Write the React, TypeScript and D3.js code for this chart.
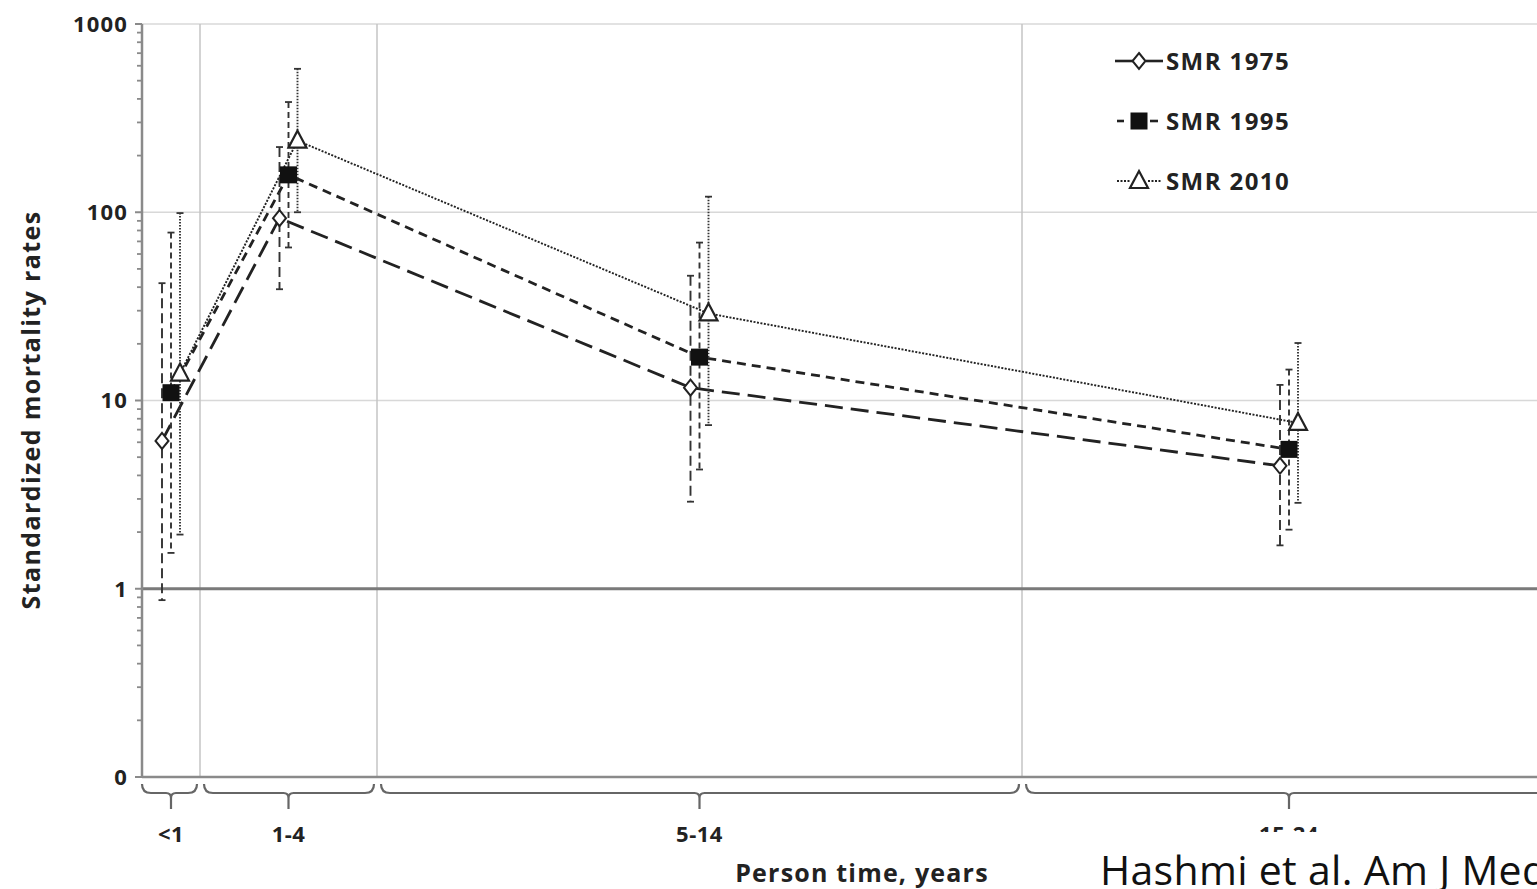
import React from "react";
import * as d3 from "d3";

// ---- data ----
const categories = ["<1", "1-4", "5-14", "15-24"];
const bandStart = [0, 1, 5, 15];
const bandEnd = [1, 5, 15, 25];
const seriesNames = ["SMR 1975", "SMR 1995", "SMR 2010"];
const smr1975 = [6.1, 93, 11.7, 4.5];
const smr1975Lo = [0.87, 39, 2.9, 1.7];
const smr1975Hi = [42, 222, 46, 12.1];
const smr1995 = [11, 158, 17, 5.5];
const smr1995Lo = [1.55, 65, 4.3, 2.06];
const smr1995Hi = [78, 385, 69, 14.6];
const smr2010 = [13.9, 240, 29, 7.6];
const smr2010Lo = [1.94, 100, 7.4, 2.86];
const smr2010Hi = [99, 578, 121, 20.2];
const yTickValues = [0.1, 1, 10, 100, 1000];
const yTickLabels = ["0", "1", "10", "100", "1000"];

const W = 1537;
const H = 889;
const FONT = "'Open Sans', 'Liberation Sans', sans-serif";

const series = [
  { name: seriesNames[0], v: smr1975, lo: smr1975Lo, hi: smr1975Hi, dash: "18,8", ebDash: "10,5", marker: "diamond", off: -9, lw: 2.8 },
  { name: seriesNames[1], v: smr1995, lo: smr1995Lo, hi: smr1995Hi, dash: "9,6", ebDash: "6,4", marker: "square", off: 0, lw: 2.8 },
  { name: seriesNames[2], v: smr2010, lo: smr2010Lo, hi: smr2010Hi, dash: "2,1.5", ebDash: "1.5,1.5", marker: "triangle", off: 9, lw: 1.9 },
];

function Marker({ type, x, y }: { type: string; x: number; y: number }) {
  if (type === "diamond") {
    const p = `M${x},${y - 8} L${x + 6.5},${y} L${x},${y + 8} L${x - 6.5},${y} Z`;
    return <path d={p} fill="#fff" stroke="#222" strokeWidth={2} />;
  }
  if (type === "square") {
    return <rect x={x - 8.5} y={y - 8.5} width={17} height={17} fill="#111" />;
  }
  const p = `M${x},${y - 10} L${x + 9},${y + 7} L${x - 9},${y + 7} Z`;
  return <path d={p} fill="#fff" stroke="#222" strokeWidth={2.2} />;
}

export default function App() {
  const left = 142;
  const top = 24;
  const bottom = 777;
  const y = d3.scaleLog().domain([0.1, 1000]).range([bottom, top]);
  const x = d3
    .scaleLinear()
    .domain([bandStart[0], ...bandEnd])
    .range([left, 200, 377, 1022, 1556]);
  const centers = categories.map((_, i) => x((bandStart[i] + bandEnd[i]) / 2));

  const minor: number[] = [];
  for (let e = -1; e < 3; e++) {
    for (let k = 2; k <= 9; k++) minor.push(k * Math.pow(10, e));
  }

  const braceY = 784;
  const brace = (x0: number, x1: number, xc: number) => {
    const r = 9;
    const hy = braceY + r;
    return `M${x0},${braceY} Q${x0},${hy} ${x0 + r},${hy} L${xc - 5},${hy} Q${xc},${hy} ${xc},${hy + 5} L${xc},${hy + 16} M${xc},${hy + 5} Q${xc},${hy} ${xc + 5},${hy} L${x1 - r},${hy} Q${x1},${hy} ${x1},${braceY}`;
  };

  const legendSegs = [
    [[1115, 1133], [1146, 1163]],
    [[1117, 1124], [1150, 1158]],
    [[1117, 1131], [1148, 1161]],
  ];

  return (
    <svg width={W} height={H} style={{ position: "absolute", left: 0, top: 0, background: "#fff" }}>
      <rect x={0} y={0} width={W} height={H} fill="#fff" />
      {/* horizontal gridlines */}
      {[10, 100, 1000].map((v) => (
        <line key={v} x1={left} x2={W} y1={y(v)} y2={y(v)} stroke="#d8d8d8" strokeWidth={1.5} />
      ))}
      {/* vertical gridlines at band boundaries */}
      {bandEnd.slice(0, 3).map((b) => (
        <line key={b} x1={x(b)} x2={x(b)} y1={top} y2={bottom} stroke="#c4c4c4" strokeWidth={1.5} />
      ))}
      {/* reference line at 1 */}
      <line x1={left} x2={W} y1={y(1)} y2={y(1)} stroke="#7a7a7a" strokeWidth={3} />
      {/* x axis */}
      <line x1={left} x2={W} y1={bottom} y2={bottom} stroke="#8a8a8a" strokeWidth={2.5} />
      {/* y axis */}
      <line x1={left} x2={left} y1={top} y2={bottom} stroke="#8a8a8a" strokeWidth={2.5} />
      {yTickValues.map((v, i) => (
        <g key={v}>
          <line x1={left - 7} x2={left} y1={y(v)} y2={y(v)} stroke="#8a8a8a" strokeWidth={2} />
          <text x={left - 14} y={y(v)} dy="0.36em" textAnchor="end" fontFamily={FONT} fontWeight={700} fontSize={22} letterSpacing={1.2} fill="#222">
            {yTickLabels[i]}
          </text>
        </g>
      ))}
      {minor.map((v) => (
        <line key={v} x1={left - 5} x2={left} y1={y(v)} y2={y(v)} stroke="#8a8a8a" strokeWidth={1.8} />
      ))}
      {/* braces */}
      {categories.map((c, i) => (
        <path
          key={c}
          d={brace(x(bandStart[i]) + (i === 0 ? 0 : 4), x(bandEnd[i]) - 3, centers[i])}
          fill="none"
          stroke="#666"
          strokeWidth={2.2}
        />
      ))}
      {categories.map((c, i) => (
        <text key={c} x={centers[i]} y={842} textAnchor="middle" fontFamily={FONT} fontWeight={700} fontSize={22} letterSpacing={0.5} fill="#222">
          {c}
        </text>
      ))}
      {/* series lines */}
      {series.map((s) => {
        const line = d3
          .line<number>()
          .x((_, i) => centers[i] + s.off)
          .y((d) => y(d));
        return (
          <path key={s.name} d={line(s.v) || ""} fill="none" stroke="#222" strokeWidth={s.lw} strokeDasharray={s.dash} />
        );
      })}
      {/* error bars */}
      {series.map((s) =>
        s.v.map((_, i) => {
          const cx = centers[i] + s.off;
          return (
            <g key={s.name + i}>
              <line x1={cx} x2={cx} y1={y(s.hi[i])} y2={y(s.lo[i])} stroke="#333" strokeWidth={1.9} strokeDasharray={s.ebDash} />
              <line x1={cx - 3.5} x2={cx + 3.5} y1={y(s.hi[i])} y2={y(s.hi[i])} stroke="#333" strokeWidth={1.8} />
              <line x1={cx - 3.5} x2={cx + 3.5} y1={y(s.lo[i])} y2={y(s.lo[i])} stroke="#333" strokeWidth={1.8} />
            </g>
          );
        })
      )}
      {/* markers */}
      {series.map((s) =>
        s.v.map((v, i) => <Marker key={s.name + "m" + i} type={s.marker} x={centers[i] + s.off} y={y(v)} />)
      )}
      {/* legend */}
      {series.map((s, i) => {
        const ly = 61 + i * 60;
        return (
          <g key={"lg" + s.name}>
            {legendSegs[i].map((sg, j) => (
              <line key={j} x1={sg[0]} x2={sg[1]} y1={ly} y2={ly} stroke="#222" strokeWidth={i === 2 ? 1.8 : 2.6} strokeDasharray={i === 2 ? "2,1.5" : "none"} />
            ))}
            <Marker type={s.marker} x={1139} y={ly} />
            <text x={1166} y={ly} dy="0.36em" fontFamily={FONT} fontWeight={700} fontSize={24} letterSpacing={1.4} fill="#222">
              {s.name}
            </text>
          </g>
        );
      })}
      {/* axis titles */}
      <text
        transform={`translate(40, 410) rotate(-90)`}
        textAnchor="middle"
        fontFamily={FONT}
        fontWeight={700}
        fontSize={25}
        letterSpacing={1.4}
        fill="#222"
      >
        Standardized mortality rates
      </text>
      <text x={862} y={882} textAnchor="middle" fontFamily={FONT} fontWeight={700} fontSize={25} letterSpacing={1.2} fill="#222">
        Person time, years
      </text>
      {/* citation overlay */}
      <rect x={1035} y={832} width={W - 1035} height={H - 832} fill="#fff" />
      <text x={1100} y={885} fontFamily="'Open Sans', sans-serif" fontSize={41} letterSpacing={0.3} fill="#111">
        Hashmi et al. Am J Med
      </text>
    </svg>
  );
}
